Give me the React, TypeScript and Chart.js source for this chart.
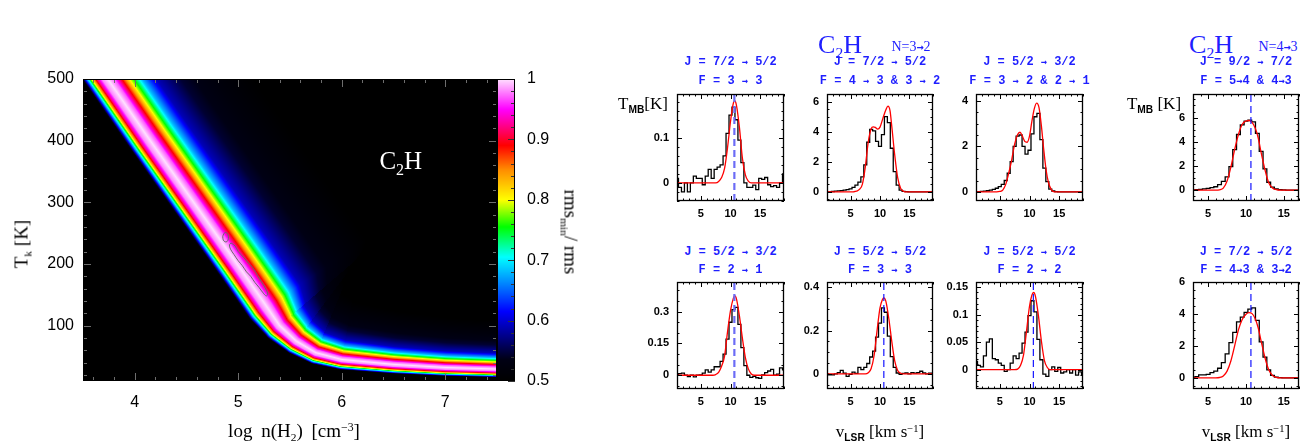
import React, { useEffect, useRef } from "react";
import { Chart, registerables } from "chart.js";

Chart.register(...registerables);

const SERIF = "'Liberation Serif', 'DejaVu Serif', serif";
const SANS = "'Liberation Sans', Arial, sans-serif";
const MONO = "'Liberation Mono', 'DejaVu Sans Mono', monospace";
const BLUE = "#1f1fff";

// ================= HEATMAP DATA (rms_min / rms) =================
const logNRange = [3.5, 7.5];
const tkRange = [10, 500];
const cbarRange = [0.5, 1];
const logNTicks = [4, 5, 6, 7];
const tkTicks = [100, 200, 300, 400, 500];
const cbarTicks = [0.5, 0.6, 0.7, 0.8, 0.9, 1];
const cbarTickLabels = ["0.5", "0.6", "0.7", "0.8", "0.9", "1"];

// ridge of the best-fit band (value 1)
const ridgeLogN = [3.49, 3.74, 4.15, 4.57, 4.99, 5.23, 5.4, 5.56, 5.75, 6.0, 6.5, 7.0, 7.5, 7.8];
const ridgeTk = [560, 500, 400, 300, 200, 142, 100, 75, 56, 45, 37, 32, 29.5, 29];
// profile across the band (distance in px from ridge -> value)
const lowSideDist = [0, 5, 9, 12.5, 15.5, 18, 19.8, 21.5];
const lowSideVal = [1, 0.98, 0.92, 0.83, 0.73, 0.65, 0.57, 0.5];
const highSideDist = [0, 5.5, 11.5, 18.5, 28, 40, 60, 88, 120];
const highSideVal = [1, 0.97, 0.89, 0.79, 0.68, 0.59, 0.545, 0.52, 0.5];
// colour map
const cmapStops = [0.5, 0.535, 0.575, 0.615, 0.66, 0.705, 0.755, 0.8, 0.85, 0.89, 0.95, 1.0];
const cmapColors = [
  [0, 0, 0], [0, 0, 20], [0, 0, 140], [0, 0, 255], [0, 130, 255], [0, 255, 255],
  [0, 255, 0], [255, 255, 0], [255, 140, 0], [255, 0, 0], [255, 0, 255], [255, 225, 255],
];
// contours
const contourSmallLogN = [4.85, 4.86, 4.88, 4.9, 4.905, 4.89, 4.87, 4.855, 4.85];
const contourSmallTk = [244, 249, 251, 248, 241, 236, 236, 239, 244];
const contourLongLogN = [4.93, 4.97, 5.0, 5.05, 5.09, 5.14, 5.17, 5.2, 5.24, 5.27, 5.285, 5.27, 5.24, 5.2, 5.16, 5.12, 5.08, 5.04, 5.0, 4.96, 4.925, 4.915, 4.93];
const contourLongTk = [234, 229, 220, 211, 203, 194, 186, 177, 167, 158, 151, 148, 153, 162, 170, 180, 187, 197, 205, 215, 224, 231, 234];
const moleculeLabelPos = [6.57, 367];

// ================= SPECTRA DATA =================
const velA = [1, 1.5, 2, 2.5, 3, 3.5, 4, 4.5, 5, 5.5, 6, 6.5, 7, 7.5, 8, 8.5, 9, 9.5, 10, 10.5, 11, 11.5, 12, 12.5, 13, 13.5, 14, 14.5, 15, 15.5, 16, 16.5, 17, 17.5, 18, 18.5, 19];
const velB = [3, 3.5, 4, 4.5, 5, 5.5, 6, 6.5, 7, 7.5, 8, 8.5, 9, 9.5, 10, 10.5, 11, 11.5, 12, 12.5, 13, 13.5, 14, 14.5, 15, 15.5, 16, 16.5, 17];

const obsP1 = [0.01, -0.01, -0.02, 0.0, -0.02, 0.0, 0.015, 0.01, 0.01, -0.004, 0.015, 0.03, 0.01, 0.03, 0.035, 0.04, 0.06, 0.11, 0.15, 0.168, 0.14, 0.095, 0.045, 0.0, -0.01, -0.01, -0.005, -0.015, 0.01, 0.008, 0.012, -0.004, -0.008, -0.006, -0.01, 0.0, 0.02];
const fitVP1 = [1, 7.5, 8, 8.5, 9, 9.5, 10, 10.4, 10.7, 11, 11.5, 12, 12.5, 13, 13.5, 19];
const fitTP1 = [0, 0, 0.003, 0.012, 0.032, 0.078, 0.136, 0.172, 0.182, 0.172, 0.123, 0.055, 0.018, 0.004, 0, 0];

const obsP2 = [0.0, 0.01, 0.03, 0.05, 0.07, 0.09, 0.12, 0.15, 0.2, 0.3, 0.45, 0.65, 1.0, 1.8, 3.3, 4.15, 4.05, 3.35, 3.02, 3.8, 5.0, 4.6, 2.9, 1.35, 0.45, 0.12, 0.04, 0.02, 0, 0, 0, 0, 0, 0, 0, 0, 0];
const fitVP2 = [1, 5, 5.5, 6, 6.5, 7, 7.5, 8, 8.5, 8.85, 9.2, 9.6, 10, 10.5, 11, 11.35, 11.7, 12, 12.5, 13, 13.5, 14, 14.5, 19];
const fitTP2 = [0, 0, 0.01, 0.05, 0.17, 0.5, 1.65, 3.3, 4.2, 4.32, 4.28, 4.17, 4.3, 4.9, 5.45, 5.7, 5.4, 4.35, 2.45, 0.95, 0.25, 0.05, 0, 0];

const obsP3 = [0, 0.01, 0.02, 0.03, 0.05, 0.08, 0.11, 0.16, 0.23, 0.33, 0.5, 0.82, 1.33, 2.0, 2.45, 2.5, 2.0, 1.66, 1.83, 2.55, 3.3, 3.45, 2.3, 1.04, 0.45, 0.12, 0.04, 0.01, 0, 0, 0, 0, 0, 0, 0, 0, 0];
const fitVP3 = [1, 4.5, 5, 5.5, 6, 6.5, 7, 7.5, 8, 8.4, 8.8, 9.2, 9.6, 10, 10.4, 10.8, 11.2, 11.6, 12, 12.4, 12.8, 13.2, 13.7, 14.2, 19];
const fitTP3 = [0, 0, 0.02, 0.08, 0.33, 0.82, 1.4, 2.1, 2.52, 2.62, 2.45, 2.22, 2.18, 2.45, 3.1, 3.65, 3.9, 3.7, 2.9, 1.85, 0.95, 0.4, 0.09, 0, 0];

const obsP4 = [0.0, 0.03, 0.06, 0.1, 0.14, 0.2, 0.28, 0.45, 0.73, 1.1, 1.95, 3.35, 4.6, 5.4, 5.7, 5.78, 5.65, 4.7, 3.2, 1.75, 0.65, 0.25, 0.1, 0.04, 0.02, 0, 0, 0, 0];
const fitVP4 = [3, 6, 6.5, 7, 7.5, 8, 8.5, 9, 9.5, 10, 10.4, 10.8, 11.2, 11.6, 12, 12.5, 13, 13.5, 14, 14.5, 17];
const fitTP4 = [0, 0, 0.03, 0.17, 0.75, 1.9, 3.35, 4.6, 5.45, 5.72, 5.76, 5.6, 5.15, 4.35, 3.1, 1.7, 0.6, 0.17, 0.04, 0, 0];

const obsP5 = [0.0, 0.008, 0.01, 0.0, -0.006, 0.0, -0.008, 0.0, 0.002, 0.01, 0.025, 0.015, 0.025, 0.04, 0.04, 0.065, 0.1, 0.17, 0.25, 0.31, 0.32, 0.24, 0.13, 0.045, 0.0, -0.01, -0.005, -0.012, -0.015, 0.002, 0.012, 0.02, 0.028, 0.0, 0.005, 0.035, 0.025];
const fitVP5 = [1, 7, 7.5, 8, 8.5, 9, 9.5, 10, 10.5, 10.7, 11, 11.5, 12, 12.5, 13, 13.5, 14, 19];
const fitTP5 = [0, 0, 0.003, 0.014, 0.042, 0.09, 0.205, 0.305, 0.365, 0.375, 0.36, 0.28, 0.175, 0.083, 0.03, 0.006, 0, 0];

const obsP6 = [0.0, -0.005, -0.004, 0.0, 0.006, 0.016, 0.003, -0.012, -0.002, 0.008, 0.002, 0.03, 0.02, 0.03, 0.048, 0.078, 0.105, 0.17, 0.235, 0.305, 0.285, 0.175, 0.08, 0.03, 0.004, -0.002, 0.002, 0.004, 0.0, 0.006, 0.003, 0.006, 0.012, 0.004, 0.0, 0.003, 0.0];
const fitVP6 = [1, 7.5, 8, 8.5, 9, 9.5, 10, 10.4, 10.65, 11, 11.5, 12, 12.5, 13, 13.5, 14, 19];
const fitTP6 = [0, 0, 0.005, 0.025, 0.085, 0.2, 0.305, 0.343, 0.352, 0.335, 0.255, 0.15, 0.06, 0.016, 0.003, 0, 0];

const obsP7 = [0.015, 0.008, 0.005, 0.025, 0.05, 0.056, 0.02, 0.018, 0.012, 0.008, -0.003, 0.0, 0.012, 0.025, 0.02, 0.03, 0.048, 0.068, 0.098, 0.125, 0.105, 0.055, 0.018, -0.008, -0.012, 0.0, 0.005, -0.003, 0.004, -0.006, -0.004, 0.0, -0.006, 0.0, -0.01, -0.004, -0.01];
const fitVP7 = [1, 7.5, 8, 8.5, 9, 9.5, 10, 10.4, 10.7, 11, 11.5, 12, 12.5, 13, 13.5, 19];
const fitTP7 = [0, 0, 0.001, 0.008, 0.027, 0.07, 0.115, 0.135, 0.14, 0.133, 0.098, 0.052, 0.017, 0.004, 0, 0];

const obsP8 = [0.0, 0.08, 0.18, 0.18, 0.22, 0.32, 0.42, 0.6, 0.95, 1.5, 2.2, 2.85, 3.5, 3.8, 4.1, 4.3, 4.38, 3.6, 2.25, 1.3, 0.5, 0.15, 0.04, 0.01, 0, 0, 0, 0, 0];
const fitVP8 = [3, 6, 6.5, 7, 7.5, 8, 8.5, 9, 9.5, 10, 10.4, 10.8, 11.2, 11.6, 12, 12.5, 13, 13.5, 14, 14.5, 17];
const fitTP8 = [0, 0, 0.02, 0.12, 0.42, 1.05, 2.0, 3.0, 3.65, 3.98, 4.08, 4.02, 3.72, 3.15, 2.3, 1.27, 0.5, 0.15, 0.03, 0, 0];

const systemicVel = [10.65, null, null, 10.65, 10.65, 10.65, 10.65, 10.65];

const titleJ = ["J = 7/2 → 5/2", "J = 7/2 → 5/2", "J = 5/2 → 3/2", "J = 9/2 → 7/2", "J = 5/2 → 3/2", "J = 5/2 → 5/2", "J = 5/2 → 5/2", "J = 7/2 → 5/2"];
const titleF = ["F = 3 → 3", "F = 4 → 3 & 3 → 2", "F = 3 → 2 & 2 → 1", "F = 5→4 & 4→3", "F = 2 → 1", "F = 3 → 3", "F = 2 → 2", "F = 4→3 & 3→2"];

const yRanges = [[-0.04, 0.197], [-0.6, 6.5], [-0.4, 4.3], [-0.9, 7.95], [-0.065, 0.44], [-0.07, 0.425], [-0.035, 0.159], [-0.7, 6.0]];
const yMajor = [0.1, 2, 2, 2, 0.15, 0.2, 0.05, 2];
const yMinor = [0.02, 0.5, 0.5, 0.5, 0.05, 0.05, 0.01, 0.5];

// layout (pixel boxes) for each panel
const boxes = [
  [677, 94, 784, 201], [827, 94, 933, 201], [976, 94, 1083, 201], [1193, 94, 1299, 201],
  [677, 282, 784, 389], [827, 282, 933, 389], [976, 282, 1083, 389], [1193, 282, 1299, 389],
];

const panels = [
  { v: velA, obs: obsP1, fv: fitVP1, ft: fitTP1, xr: [1, 19], light: true },
  { v: velA, obs: obsP2, fv: fitVP2, ft: fitTP2, xr: [1, 19], light: false },
  { v: velA, obs: obsP3, fv: fitVP3, ft: fitTP3, xr: [1, 19], light: false },
  { v: velB, obs: obsP4, fv: fitVP4, ft: fitTP4, xr: [3, 17], light: false },
  { v: velA, obs: obsP5, fv: fitVP5, ft: fitTP5, xr: [1, 19], light: true },
  { v: velA, obs: obsP6, fv: fitVP6, ft: fitTP6, xr: [1, 19], light: false },
  { v: velA, obs: obsP7, fv: fitVP7, ft: fitTP7, xr: [1, 19], light: false },
  { v: velB, obs: obsP8, fv: fitVP8, ft: fitTP8, xr: [3, 17], light: false },
];

// ================= helpers =================
function lerp(xs: number[], ys: number[], x: number): number {
  if (x <= xs[0]) return ys[0];
  for (let i = 1; i < xs.length; i++) {
    if (x <= xs[i]) {
      const t = (x - xs[i - 1]) / (xs[i] - xs[i - 1]);
      return ys[i - 1] + t * (ys[i] - ys[i - 1]);
    }
  }
  return ys[ys.length - 1];
}
function colorFor(v: number): number[] {
  if (v <= cmapStops[0]) return cmapColors[0];
  for (let i = 1; i < cmapStops.length; i++) {
    if (v <= cmapStops[i]) {
      const t = (v - cmapStops[i - 1]) / (cmapStops[i] - cmapStops[i - 1]);
      const a = cmapColors[i - 1], b = cmapColors[i];
      return [a[0] + t * (b[0] - a[0]), a[1] + t * (b[1] - a[1]), a[2] + t * (b[2] - a[2])];
    }
  }
  return cmapColors[cmapColors.length - 1];
}
function tickList(min: number, max: number, minor: number, major: number) {
  const out: { v: number; major: boolean }[] = [];
  for (let k = Math.ceil(min / minor - 1e-9); k * minor <= max + 1e-9; k++) {
    const v = k * minor;
    out.push({ v, major: Math.abs(v / major - Math.round(v / major)) < 1e-6 });
  }
  return out;
}
function fmt(v: number) {
  const r = parseFloat(v.toFixed(4));
  return (Math.abs(r) < 1e-9 ? 0 : r).toString();
}

// ================= heatmap chart =================
const HEAT_W = 600, HEAT_H = 441;
const HEAT_BOX = { left: 83, top: 79, right: 497, bottom: 381 };
const CBAR_W = 18;

const heatPlugin = {
  id: "heatField",
  beforeDatasetsDraw(chart: any) {
    const { ctx, chartArea: a, scales } = chart;
    const xs = scales.x, ys = scales.y;
    const L = Math.round(a.left), T = Math.round(a.top);
    const W = Math.round(a.right) - L, H = Math.round(a.bottom) - T;
    const px = ridgeLogN.map((n) => xs.getPixelForValue(n));
    const py = ridgeTk.map((t) => ys.getPixelForValue(t));
    const img = ctx.createImageData(W, H);
    const d = img.data;
    for (let j = 0; j < H; j++) {
      const Y = T + j + 0.5;
      for (let i = 0; i < W; i++) {
        const X = L + i + 0.5;
        let best = Infinity, side = 1, tc = 0;
        for (let k = 0; k < px.length - 1; k++) {
          const dx = px[k + 1] - px[k], dy = py[k + 1] - py[k];
          const rx = X - px[k], ry = Y - py[k];
          let t = (rx * dx + ry * dy) / (dx * dx + dy * dy);
          if (t < 0) t = 0; else if (t > 1) t = 1;
          const ex = rx - t * dx, ey = ry - t * dy;
          const d2 = ex * ex + ey * ey;
          if (d2 < best) {
            best = d2;
            side = dx * ry - dy * rx < 0 ? 1 : -1;
            tc = ridgeTk[k] + t * (ridgeTk[k + 1] - ridgeTk[k]);
          }
        }
        const dist = Math.sqrt(best);
        const f = Math.max(0, Math.min(1, (tc - 30) / 100));
        const v = side > 0
          ? lerp(highSideDist, highSideVal, dist / (0.4 + 0.6 * f))
          : lerp(lowSideDist, lowSideVal, dist / (0.4 + 0.6 * f));
        const c = colorFor(v);
        const o = (j * W + i) * 4;
        d[o] = c[0]; d[o + 1] = c[1]; d[o + 2] = c[2]; d[o + 3] = 255;
      }
    }
    ctx.putImageData(img, L, T);
  },
  afterDraw(chart: any) {
    const { ctx, chartArea: a, scales } = chart;
    const xs = scales.x, ys = scales.y, cs = scales.c;
    ctx.save();
    // ticks on heatmap
    ctx.strokeStyle = "#6e6e6e";
    ctx.lineWidth = 1;
    ctx.beginPath();
    for (const t of tickList(logNRange[0], logNRange[1], 0.2, 1)) {
      const x = Math.round(xs.getPixelForValue(t.v)) + 0.5;
      const len = t.major ? 8 : 4;
      ctx.moveTo(x, a.bottom); ctx.lineTo(x, a.bottom - len);
      ctx.moveTo(x, a.top); ctx.lineTo(x, a.top + len);
    }
    for (const t of tickList(20, tkRange[1], 20, 100)) {
      const y = Math.round(ys.getPixelForValue(t.v)) + 0.5;
      const len = t.major ? 8 : 4;
      ctx.moveTo(a.left, y); ctx.lineTo(a.left + len, y);
      ctx.moveTo(a.right, y); ctx.lineTo(a.right - len, y);
    }
    ctx.stroke();
    // frame
    ctx.strokeStyle = "#000";
    ctx.strokeRect(a.left + 0.5, a.top + 0.5, a.right - a.left - 1, a.bottom - a.top - 1);
    // colour bar
    const cbL = a.right, cbR = a.right + CBAR_W;
    for (let y = Math.round(a.top); y < Math.round(a.bottom); y++) {
      const v = cs.getValueForPixel(y + 0.5);
      const c = colorFor(v);
      ctx.fillStyle = `rgb(${c[0] | 0},${c[1] | 0},${c[2] | 0})`;
      ctx.fillRect(cbL, y, CBAR_W, 1);
    }
    ctx.strokeStyle = "#333";
    ctx.beginPath();
    for (const t of tickList(cbarRange[0], cbarRange[1], 0.02, 0.1)) {
      const y = Math.round(cs.getPixelForValue(t.v)) + 0.5;
      const len = t.major ? 7 : 4;
      ctx.moveTo(cbR, y); ctx.lineTo(cbR - len, y);
    }
    ctx.stroke();
    ctx.strokeStyle = "#000";
    ctx.strokeRect(cbL + 0.5, a.top + 0.5, CBAR_W - 1, a.bottom - a.top - 1);
    // tick labels
    ctx.fillStyle = "#000";
    ctx.font = `16px ${SANS}`;
    ctx.textAlign = "center";
    ctx.textBaseline = "middle";
    logNTicks.forEach((v) => ctx.fillText(String(v), xs.getPixelForValue(v), a.bottom + 22));
    ctx.textAlign = "right";
    tkTicks.forEach((v) => ctx.fillText(String(v), a.left - 9, ys.getPixelForValue(v)));
    ctx.textAlign = "left";
    cbarTicks.forEach((v, i) => ctx.fillText(cbarTickLabels[i], cbR + 12, cs.getPixelForValue(v)));
    // molecule label
    const mx = xs.getPixelForValue(moleculeLabelPos[0]);
    const my = ys.getPixelForValue(moleculeLabelPos[1]);
    ctx.fillStyle = "#fff";
    ctx.textAlign = "left";
    ctx.textBaseline = "alphabetic";
    ctx.font = `25px ${SERIF}`;
    const wC = ctx.measureText("C").width;
    ctx.font = `16px ${SERIF}`;
    const w2 = ctx.measureText("2").width;
    ctx.font = `25px ${SERIF}`;
    const wH = ctx.measureText("H").width;
    const x0 = mx - (wC + w2 + wH) / 2;
    ctx.fillText("C", x0, my + 8);
    ctx.font = `16px ${SERIF}`;
    ctx.fillText("2", x0 + wC, my + 14);
    ctx.font = `25px ${SERIF}`;
    ctx.fillText("H", x0 + wC + w2, my + 8);
    ctx.restore();
  },
};

function HeatmapChart() {
  const ref = useRef<HTMLCanvasElement>(null);
  useEffect(() => {
    const chart = new Chart(ref.current as HTMLCanvasElement, {
      type: "scatter",
      data: {
        datasets: [
          {
            data: contourSmallLogN.map((n, i) => ({ x: n, y: contourSmallTk[i] })),
            showLine: true, borderColor: "#6a6a6a", borderWidth: 1, pointRadius: 0, tension: 0.35,
          },
          {
            data: contourLongLogN.map((n, i) => ({ x: n, y: contourLongTk[i] })),
            showLine: true, borderColor: "#6a6a6a", borderWidth: 1, pointRadius: 0, tension: 0.35,
          },
        ],
      },
      options: {
        animation: false,
        responsive: false,
        devicePixelRatio: 1,
        events: [],
        layout: {
          padding: { left: HEAT_BOX.left, top: HEAT_BOX.top, right: HEAT_W - HEAT_BOX.right, bottom: HEAT_H - HEAT_BOX.bottom },
        },
        scales: {
          x: { type: "linear", min: logNRange[0], max: logNRange[1], display: false },
          y: { type: "linear", min: tkRange[0], max: tkRange[1], display: false },
          c: { type: "linear", axis: "y", position: "right", min: cbarRange[0], max: cbarRange[1], display: false },
        },
        plugins: { legend: { display: false }, tooltip: { enabled: false } },
      } as any,
      plugins: [heatPlugin],
    });
    return () => chart.destroy();
  }, []);
  return (
    <canvas ref={ref} width={HEAT_W} height={HEAT_H}
      style={{ position: "absolute", left: 0, top: 0, width: HEAT_W, height: HEAT_H }} />
  );
}

// ================= spectrum panels =================
const framePlugin = {
  id: "frameTicks",
  afterDraw(chart: any, _args: any, opts: any) {
    const { ctx, chartArea: a, scales } = chart;
    const xs = scales.x, ys = scales.y;
    ctx.save();
    ctx.strokeStyle = "#000";
    ctx.lineWidth = 1;
    ctx.beginPath();
    for (const t of tickList(xs.min, xs.max, opts.xMinor, opts.xMajor)) {
      const x = Math.round(xs.getPixelForValue(t.v)) + 0.5;
      const len = t.major ? 5 : 2.5;
      ctx.moveTo(x, a.bottom); ctx.lineTo(x, a.bottom - len);
      ctx.moveTo(x, a.top); ctx.lineTo(x, a.top + len);
    }
    for (const t of tickList(ys.min, ys.max, opts.yMinor, opts.yMajor)) {
      const y = Math.round(ys.getPixelForValue(t.v)) + 0.5;
      const len = t.major ? 5 : 2.5;
      ctx.moveTo(a.left, y); ctx.lineTo(a.left + len, y);
      ctx.moveTo(a.right, y); ctx.lineTo(a.right - len, y);
    }
    ctx.stroke();
    ctx.lineWidth = 1.3;
    ctx.strokeRect(a.left + 0.5, a.top + 0.5, a.right - a.left - 1, a.bottom - a.top - 1);
    ctx.fillStyle = "#000";
    ctx.font = `bold 11px ${SANS}`;
    ctx.textAlign = "center";
    ctx.textBaseline = "middle";
    for (const t of tickList(xs.min, xs.max, opts.xMajor, opts.xMajor)) {
      ctx.fillText(fmt(t.v), xs.getPixelForValue(t.v), a.bottom + 13);
    }
    ctx.textAlign = "right";
    for (const t of tickList(ys.min, ys.max, opts.yMajor, opts.yMajor)) {
      ctx.fillText(fmt(t.v), a.left - 8, ys.getPixelForValue(t.v));
    }
    ctx.restore();
  },
};

const PAD = { left: 50, top: 6, right: 6, bottom: 24 };

function SpectrumPanel({ idx }: { idx: number }) {
  const ref = useRef<HTMLCanvasElement>(null);
  const p = panels[idx];
  const b = boxes[idx];
  const W = b[2] - b[0] + PAD.left + PAD.right;
  const H = b[3] - b[1] + PAD.top + PAD.bottom;
  useEffect(() => {
    const yr = yRanges[idx];
    const datasets: any[] = [];
    const c = systemicVel[idx];
    if (c !== null) {
      datasets.push({
        data: [{ x: c, y: yr[0] }, { x: c, y: yr[1] }],
        borderColor: p.light ? "#6c6cf6" : "#1515ff",
        borderWidth: p.light ? 2.2 : 1.2,
        borderDash: [7, 4],
        pointRadius: 0,
      });
    }
    datasets.push({
      data: p.fv.map((v, i) => ({ x: v, y: p.ft[i] })),
      borderColor: "#ff0000", borderWidth: 1.3, pointRadius: 0,
      tension: 0.4, cubicInterpolationMode: "monotone",
    });
    datasets.push({
      data: p.v.map((v, i) => ({ x: v, y: p.obs[i] })),
      borderColor: "#000000", borderWidth: 1.3, pointRadius: 0, stepped: "middle",
    });
    const chart = new Chart(ref.current as HTMLCanvasElement, {
      type: "line",
      data: { datasets },
      options: {
        animation: false,
        responsive: false,
        devicePixelRatio: 1,
        events: [],
        layout: { padding: PAD },
        scales: {
          x: { type: "linear", min: p.xr[0], max: p.xr[1], display: false },
          y: { type: "linear", min: yr[0], max: yr[1], display: false },
        },
        plugins: {
          legend: { display: false },
          tooltip: { enabled: false },
          frameTicks: { xMinor: 1, xMajor: 5, yMinor: yMinor[idx], yMajor: yMajor[idx] },
        },
      } as any,
      plugins: [framePlugin],
    });
    return () => chart.destroy();
  }, []);
  return (
    <canvas ref={ref} width={W} height={H}
      style={{ position: "absolute", left: b[0] - PAD.left, top: b[1] - PAD.top, width: W, height: H }} />
  );
}

// ================= text =================
function Label({ x, y, rot = 0, style, children }: any) {
  return (
    <div
      style={{
        position: "absolute", left: x, top: y, lineHeight: 1, whiteSpace: "nowrap",
        transform: `translate(-50%, -50%) rotate(${rot}deg)`, ...style,
      }}
    >
      {children}
    </div>
  );
}
const sub = (t: string, extra: any = {}) => (
  <span style={{ fontSize: "0.6em", position: "relative", top: "0.35em", ...extra }}>{t}</span>
);
const sup = (t: string) => (
  <span style={{ fontSize: "0.62em", position: "relative", top: "-0.5em" }}>{t}</span>
);
// keep arrows readable: draw them with a font that has a full-size arrow glyph
function withArrows(s: string) {
  const parts = s.split("→");
  const out: any[] = [];
  parts.forEach((p, i) => {
    out.push(<span key={"t" + i}>{p}</span>);
    if (i < parts.length - 1) {
      out.push(
        <span key={"a" + i} style={{ fontFamily: "'DejaVu Sans Mono', monospace", fontSize: "0.85em", fontWeight: "bold" }}>→</span>
      );
    }
  });
  return out;
}

export default function App() {
  return (
    <div style={{ position: "absolute", left: 0, top: 0, width: 1313, height: 441, background: "#fff", overflow: "hidden" }}>
      <HeatmapChart />
      {panels.map((_, i) => <SpectrumPanel key={i} idx={i} />)}

      {/* heatmap axis titles */}
      <Label x={294} y={430} style={{ fontFamily: SERIF, fontSize: 19, wordSpacing: 4 }}>
        log n(H{sub("2")}) [cm{sup("−3")}]
      </Label>
      <Label x={21} y={244} rot={-90} style={{ fontFamily: SERIF, fontSize: 19 }}>
        T{sub("k")} [K]
      </Label>
      <Label x={571} y={232} rot={90} style={{ fontFamily: SERIF, fontSize: 19 }}>
        rms{sub("min")}/ rms
      </Label>

      {/* group headers */}
      <Label x={840} y={45} style={{ fontFamily: SERIF, fontSize: 26, color: BLUE }}>C{sub("2")}H</Label>
      <Label x={911} y={47} style={{ fontFamily: SERIF, fontSize: 14, color: BLUE }}>{withArrows("N=3→2")}</Label>
      <Label x={1211} y={45} style={{ fontFamily: SERIF, fontSize: 26, color: BLUE }}>C{sub("2")}H</Label>
      <Label x={1278} y={47} style={{ fontFamily: SERIF, fontSize: 14, color: BLUE }}>{withArrows("N=4→3")}</Label>

      {/* panel titles */}
      {boxes.map((b, i) => {
        const cx = (b[0] + b[2]) / 2;
        const top = b[1] < 200;
        return (
          <React.Fragment key={i}>
            <Label x={cx} y={top ? 62 : 252} style={{ fontFamily: MONO, fontWeight: "bold", fontSize: 12, color: BLUE }}>{withArrows(titleJ[i])}</Label>
            <Label x={cx} y={top ? 81 : 270} style={{ fontFamily: MONO, fontWeight: "bold", fontSize: 12, color: BLUE }}>{withArrows(titleF[i])}</Label>
          </React.Fragment>
        );
      })}

      {/* spectra axis titles */}
      <Label x={643} y={103} style={{ fontFamily: SERIF, fontSize: 17 }}>
        T{sub("MB", { fontFamily: SANS, fontWeight: "bold" })}[K]
      </Label>
      <Label x={1154} y={103} style={{ fontFamily: SERIF, fontSize: 17 }}>
        T{sub("MB", { fontFamily: SANS, fontWeight: "bold" })} [K]
      </Label>
      <Label x={880} y={431} style={{ fontFamily: SERIF, fontSize: 17 }}>
        v{sub("LSR", { fontFamily: SANS, fontWeight: "bold" })} [km s{sup("−1")}]
      </Label>
      <Label x={1246} y={431} style={{ fontFamily: SERIF, fontSize: 17 }}>
        v{sub("LSR", { fontFamily: SANS, fontWeight: "bold" })} [km s{sup("−1")}]
      </Label>
    </div>
  );
}
